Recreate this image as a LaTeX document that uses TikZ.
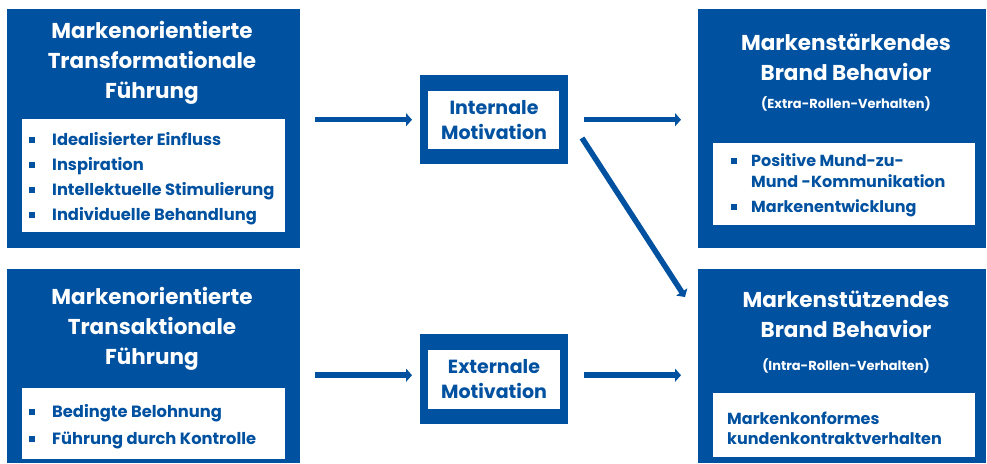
\documentclass[tikz,border=0pt]{standalone}
\usepackage{fontspec}
\setmainfont{Poppins}
\usetikzlibrary{arrows.meta,calc}
\definecolor{mb}{RGB}{0,81,160}
\newcommand\sqbul{\raisebox{2.5pt}{\rule{6pt}{6pt}}}
\tikzset{
  bluebox/.style={fill=mb, draw=none, inner sep=0pt, anchor=north west},
  whitebox/.style={fill=white, draw=none, inner sep=0pt, anchor=north west},
  ttl/.style={text=white, font=\bfseries\fontsize{21.5}{30}\selectfont, align=center, inner sep=0pt},
  sub/.style={text=white, font=\bfseries\fontsize{13}{14}\selectfont, inner sep=0pt},
  lst/.style={text=mb, font=\bfseries\fontsize{16.3}{25}\selectfont, inner sep=0pt, anchor=base west},
  mot/.style={text=mb, font=\bfseries\fontsize{19}{25}\selectfont, align=center, inner sep=0pt},
  arr/.style={draw=mb, line width=5.5pt, -{Triangle[length=6pt,width=13pt]}},
}
\begin{document}
\begin{tikzpicture}[x=1pt,y=-1pt]
\useasboundingbox (0,0) rectangle (987,463);
% blue boxes
\node[bluebox, minimum width=293pt, minimum height=239pt] (TL) at (7,9) {};
\node[bluebox, minimum width=293pt, minimum height=194pt] (BL) at (7,269) {};
\node[bluebox, minimum width=288pt, minimum height=239pt] (TR) at (698,9) {};
\node[bluebox, minimum width=288pt, minimum height=194pt] (BR) at (698,269) {};
\node[bluebox, minimum width=148pt, minimum height=89pt] (IM) at (420,75) {};
\node[bluebox, minimum width=148pt, minimum height=90pt] (EM) at (420,334) {};
% white inner boxes
\node[whitebox, minimum width=263pt, minimum height=113pt] (TLw) at (22,119) {};
\node[whitebox, minimum width=263pt, minimum height=71pt] (BLw) at (22,388) {};
\node[whitebox, minimum width=262pt, minimum height=82pt] (TRw) at (713,143) {};
\node[whitebox, minimum width=262pt, minimum height=64pt] (BRw) at (713,393) {};
\node[whitebox, minimum width=131pt, minimum height=58pt] (IMw) at (428,91) {};
\node[whitebox, minimum width=132pt, minimum height=59pt] (EMw) at (428,350) {};
% titles
\node[ttl] (TLt) at (152,63) {Markenorientierte\\Transformationale\\Führung};
\node[ttl] (BLt) at (152,329) {Markenorientierte\\Transaktionale\\Führung};
\node[ttl] (TRt) at (846,57.5) {Markenstärkendes\\Brand Behavior};
\node[sub] (TRs) at (846,104) {(Extra-Rollen-Verhalten)};
\node[ttl] (BRt) at (846,314) {Markenstützendes\\Brand Behavior};
\node[sub] (BRs) at (846,366) {(Intra-Rollen-Verhalten)};
\node[mot] (IMt) at (494,120) {Internale\\Motivation};
\node[mot] (EMt) at (494,379) {Externale\\Motivation};
% lists
\node[lst] (TLl) at (29,145) {\begin{tabular}[t]{@{}l@{\hspace{17pt}}l@{}}
\sqbul & Idealisierter Einfluss\\
\sqbul & Inspiration\\
\sqbul & Intellektuelle Stimulierung\\
\sqbul & Individuelle Behandlung
\end{tabular}};
\node[lst, font=\bfseries\fontsize{16.3}{27}\selectfont] (BLl) at (29,417) {\begin{tabular}[t]{@{}l@{\hspace{17pt}}l@{}}
\sqbul & Bedingte Belohnung\\
\sqbul & Führung durch Kontrolle
\end{tabular}};
\node[lst, font=\bfseries\fontsize{16}{21}\selectfont] (TRl) at (731,166) {\begin{tabular}[t]{@{}l@{\hspace{14pt}}l@{}}
\sqbul & Positive Mund-zu-\\
 & Mund -Kommunikation\\[4pt]
\sqbul & Markenentwicklung
\end{tabular}};
\node[lst, font=\bfseries\fontsize{16}{20}\selectfont] (BRl) at (727,424) {\begin{tabular}[t]{@{}l@{}}
Markenkonformes\\
kundenkontraktverhalten
\end{tabular}};
% connectors
\coordinate (d1) at (582,138);
\coordinate (d2) at (685,297);
\draw[arr, shorten <=15pt, shorten >=8pt] (TL.east |- IM.west) -- (IM.west);
\draw[arr, shorten <=16pt, shorten >=17pt] (IM.east) -- (TR.west |- IM.east);
\draw[arr, shorten <=15pt, shorten >=8pt] ([yshift=4pt]BL.east |- EM.west) -- ([yshift=4pt]EM.west);
\draw[arr, shorten <=16pt, shorten >=17pt] ([yshift=4pt]EM.east) -- ([yshift=4pt]BR.west |- EM.east);
\draw[arr] (d1) -- (d2);
\end{tikzpicture}
\end{document}
